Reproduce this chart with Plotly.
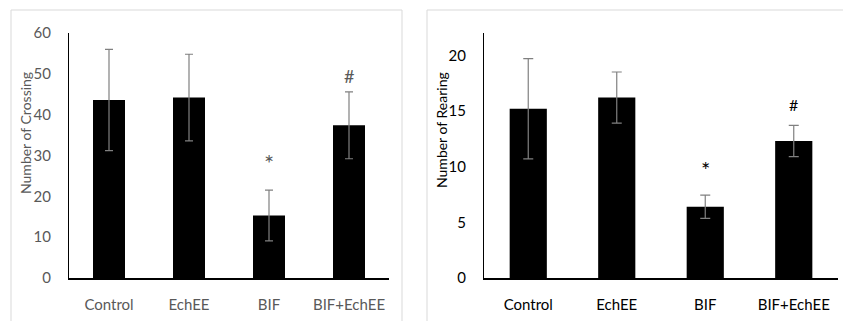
import plotly.graph_objects as go

categories = ["Control", "EchEE", "BIF", "BIF+EchEE"]

crossing_mean = [43.6, 44.2, 15.3, 37.4]
crossing_err = [12.4, 10.6, 6.2, 8.2]
crossing_sig = ["", "", "*", "#"]

rearing_mean = [15.2, 16.2, 6.4, 12.3]
rearing_err = [4.5, 2.3, 1.05, 1.4]
rearing_sig = ["", "", "*", "#"]

W, H = 843, 321
FONT = "Lato"
GRAY_TXT = "#595959"

def px(x):
    return x / W

def py(y):
    return (H - y) / H

fig = go.Figure()

fig.add_trace(go.Bar(
    x=categories, y=crossing_mean, xaxis="x", yaxis="y",
    marker=dict(color="black", line=dict(width=0)), width=0.4,
    error_y=dict(type="data", array=crossing_err, visible=True,
                 color="#808080", thickness=1.2, width=4),
    showlegend=False, hoverinfo="skip"))

fig.add_trace(go.Bar(
    x=categories, y=rearing_mean, xaxis="x2", yaxis="y2",
    marker=dict(color="black", line=dict(width=0)), width=0.42,
    error_y=dict(type="data", array=rearing_err, visible=True,
                 color="#808080", thickness=1.2, width=5),
    showlegend=False, hoverinfo="skip"))

ydom = [py(278), py(33)]

fig.update_layout(
    width=W, height=H, margin=dict(l=0, r=0, t=0, b=0, autoexpand=False),
    paper_bgcolor="white", plot_bgcolor="white",
    xaxis=dict(domain=[px(69), px(389)], range=[-0.5, 3.5], showgrid=False, automargin=False,
               showline=True, linecolor="black", linewidth=1.5,
               ticks="outside", ticklen=12, tickcolor="rgba(0,0,0,0)",
               tickfont=dict(family=FONT, size=15, color=GRAY_TXT), fixedrange=True),
    yaxis=dict(domain=ydom, range=[0, 60], dtick=10, showgrid=False, automargin=False,
               showline=True, linecolor="black", linewidth=1, zeroline=False,
               ticks="outside", ticklen=14, tickcolor="rgba(0,0,0,0)",
               tickfont=dict(family=FONT, size=15, color=GRAY_TXT), fixedrange=True),
    xaxis2=dict(domain=[px(484), px(838)], range=[-0.5, 3.5], showgrid=False, automargin=False,
                showline=True, linecolor="black", linewidth=1.5, anchor="y2",
                ticks="outside", ticklen=12, tickcolor="rgba(0,0,0,0)",
                tickfont=dict(family=FONT, size=15, color="black"), fixedrange=True),
    yaxis2=dict(domain=ydom, range=[0, 22], tickvals=[0, 5, 10, 15, 20], showgrid=False,
                automargin=False,
                showline=True, linecolor="black", linewidth=1, zeroline=False, anchor="x2",
                ticks="outside", ticklen=14, tickcolor="rgba(0,0,0,0)",
                tickfont=dict(family=FONT, size=15, color="black"), fixedrange=True),
    bargap=0.6,
)

shapes = [
    dict(type="rect", xref="paper", yref="paper", x0=px(11), x1=px(402),
         y0=py(340), y1=py(10), line=dict(color="#d9d9d9", width=1)),
    dict(type="rect", xref="paper", yref="paper", x0=px(427), x1=px(860),
         y0=py(340), y1=py(10), line=dict(color="#d9d9d9", width=1)),
]
fig.update_layout(shapes=shapes)

annotations = [
    dict(text="Number of Crossing", xref="paper", yref="paper", x=px(25), y=py(133),
         xanchor="center", yanchor="middle",
         textangle=-90, showarrow=False, font=dict(family=FONT, size=14, color=GRAY_TXT)),
    dict(text="Number of Rearing", xref="paper", yref="paper", x=px(441), y=py(130),
         xanchor="center", yanchor="middle",
         textangle=-90, showarrow=False, font=dict(family=FONT, size=14, color="black")),
]
left_shift = {"*": 11, "#": 3}
right_shift = {"*": 10, "#": 9}
sig_size = {"*": 24, "#": 18}
for c, m, e, s in zip(categories, crossing_mean, crossing_err, crossing_sig):
    if s:
        annotations.append(dict(text=s, x=c, y=m + e, xref="x", yref="y", showarrow=False,
                                xanchor="center", yanchor="bottom", yshift=left_shift[s],
                                font=dict(family=FONT, size=sig_size[s], color=GRAY_TXT)))
for c, m, e, s in zip(categories, rearing_mean, rearing_err, rearing_sig):
    if s:
        annotations.append(dict(text=s, x=c, y=m + e, xref="x2", yref="y2", showarrow=False,
                                xanchor="center", yanchor="bottom", yshift=right_shift[s],
                                font=dict(family=FONT, size=sig_size[s] - 2, color="black")))
fig.update_layout(annotations=annotations)

fig.write_html("out.html")
